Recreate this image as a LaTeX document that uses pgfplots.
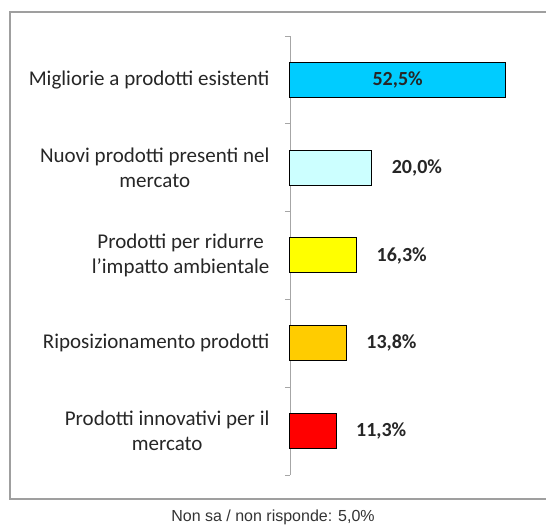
\documentclass[border=0pt]{standalone}
\usepackage{fontspec}
\setmainfont{Carlito}
\newfontfamily\footfont{Liberation Sans}
\usepackage{pgfplots}
\pgfplotsset{compat=1.18}

\definecolor{barcyan}{HTML}{00CCFF}
\definecolor{barlight}{HTML}{CCFFFF}
\definecolor{baryellow}{HTML}{FFFF00}
\definecolor{barorange}{HTML}{FFCC00}
\definecolor{barred}{HTML}{FF0000}

\begin{document}
\begin{tikzpicture}
\useasboundingbox (-290pt,-54pt) rectangle (256pt,475pt);
% outer frame
\draw[gray!75, line width=1.5pt] (-280pt,-24pt) rectangle (258pt,463pt);

\begin{axis}[
    at={(0pt,0pt)}, anchor=south west,
    scale only axis,
    width=246pt, height=439pt,
    xmin=0, xmax=60,
    ymin=0.5, ymax=5.5,
    axis x line=none,
    axis y line*=left,
    y axis line style={gray!70, line width=0.8pt},
    ytick={0.5,1.5,2.5,3.5,4.5,5.5},
    yticklabels={},
    major tick length=5pt,
    tick align=outside,
    tick style={gray!70, line width=0.8pt},
    xbar, bar width=35pt, bar shift=0pt,
    clip=false,
    point meta=x,
    nodes near coords={\pgfmathprintnumber[fixed,fixed zerofill,precision=1,use comma,assume math mode=true]{\pgfplotspointmeta}\%},
    nodes near coords style={font=\fontsize{20}{22}\selectfont\bfseries, text=black!85},
]

% --- bars, top to bottom ---
\addplot[fill=barcyan, draw=black, line width=1pt,
    nodes near coords style={anchor=center, xshift=-107.6pt}]
    coordinates {(52.5,5)};
\addplot[fill=barlight, draw=black, line width=1pt,
    nodes near coords style={xshift=16pt}]
    coordinates {(20.0,4)};
\addplot[fill=baryellow, draw=black, line width=1pt,
    nodes near coords style={xshift=16pt}]
    coordinates {(16.3,3)};
\addplot[fill=barorange, draw=black, line width=1pt,
    nodes near coords style={xshift=16pt}]
    coordinates {(13.8,2)};
\addplot[fill=barred, draw=black, line width=1pt,
    nodes near coords style={xshift=16pt}]
    coordinates {(11.3,1)};

% --- category labels ---
\tikzset{catlabel/.style={anchor=east, xshift=-17pt, align=center,
    font=\fontsize{21}{25}\selectfont, text=black!85}}
\node[catlabel] at (axis cs:0,5) {Migliorie a prodotti esistenti};
\node[catlabel] at (axis cs:0,4) {Nuovi prodotti presenti nel\\mercato};
\node[catlabel] at (axis cs:0,3) {Prodotti per ridurre\\l'impatto ambientale};
\node[catlabel] at (axis cs:0,2) {Riposizionamento prodotti};
\node[catlabel] at (axis cs:0,1) {Prodotti innovativi per il\\mercato};
\end{axis}

% --- footnote ---
\node[font=\footfont\fontsize{16}{18}\selectfont, text=black!80] at (-17pt,-42pt)
    {Non sa / non risponde: 5,0\%};
\end{tikzpicture}
\end{document}
